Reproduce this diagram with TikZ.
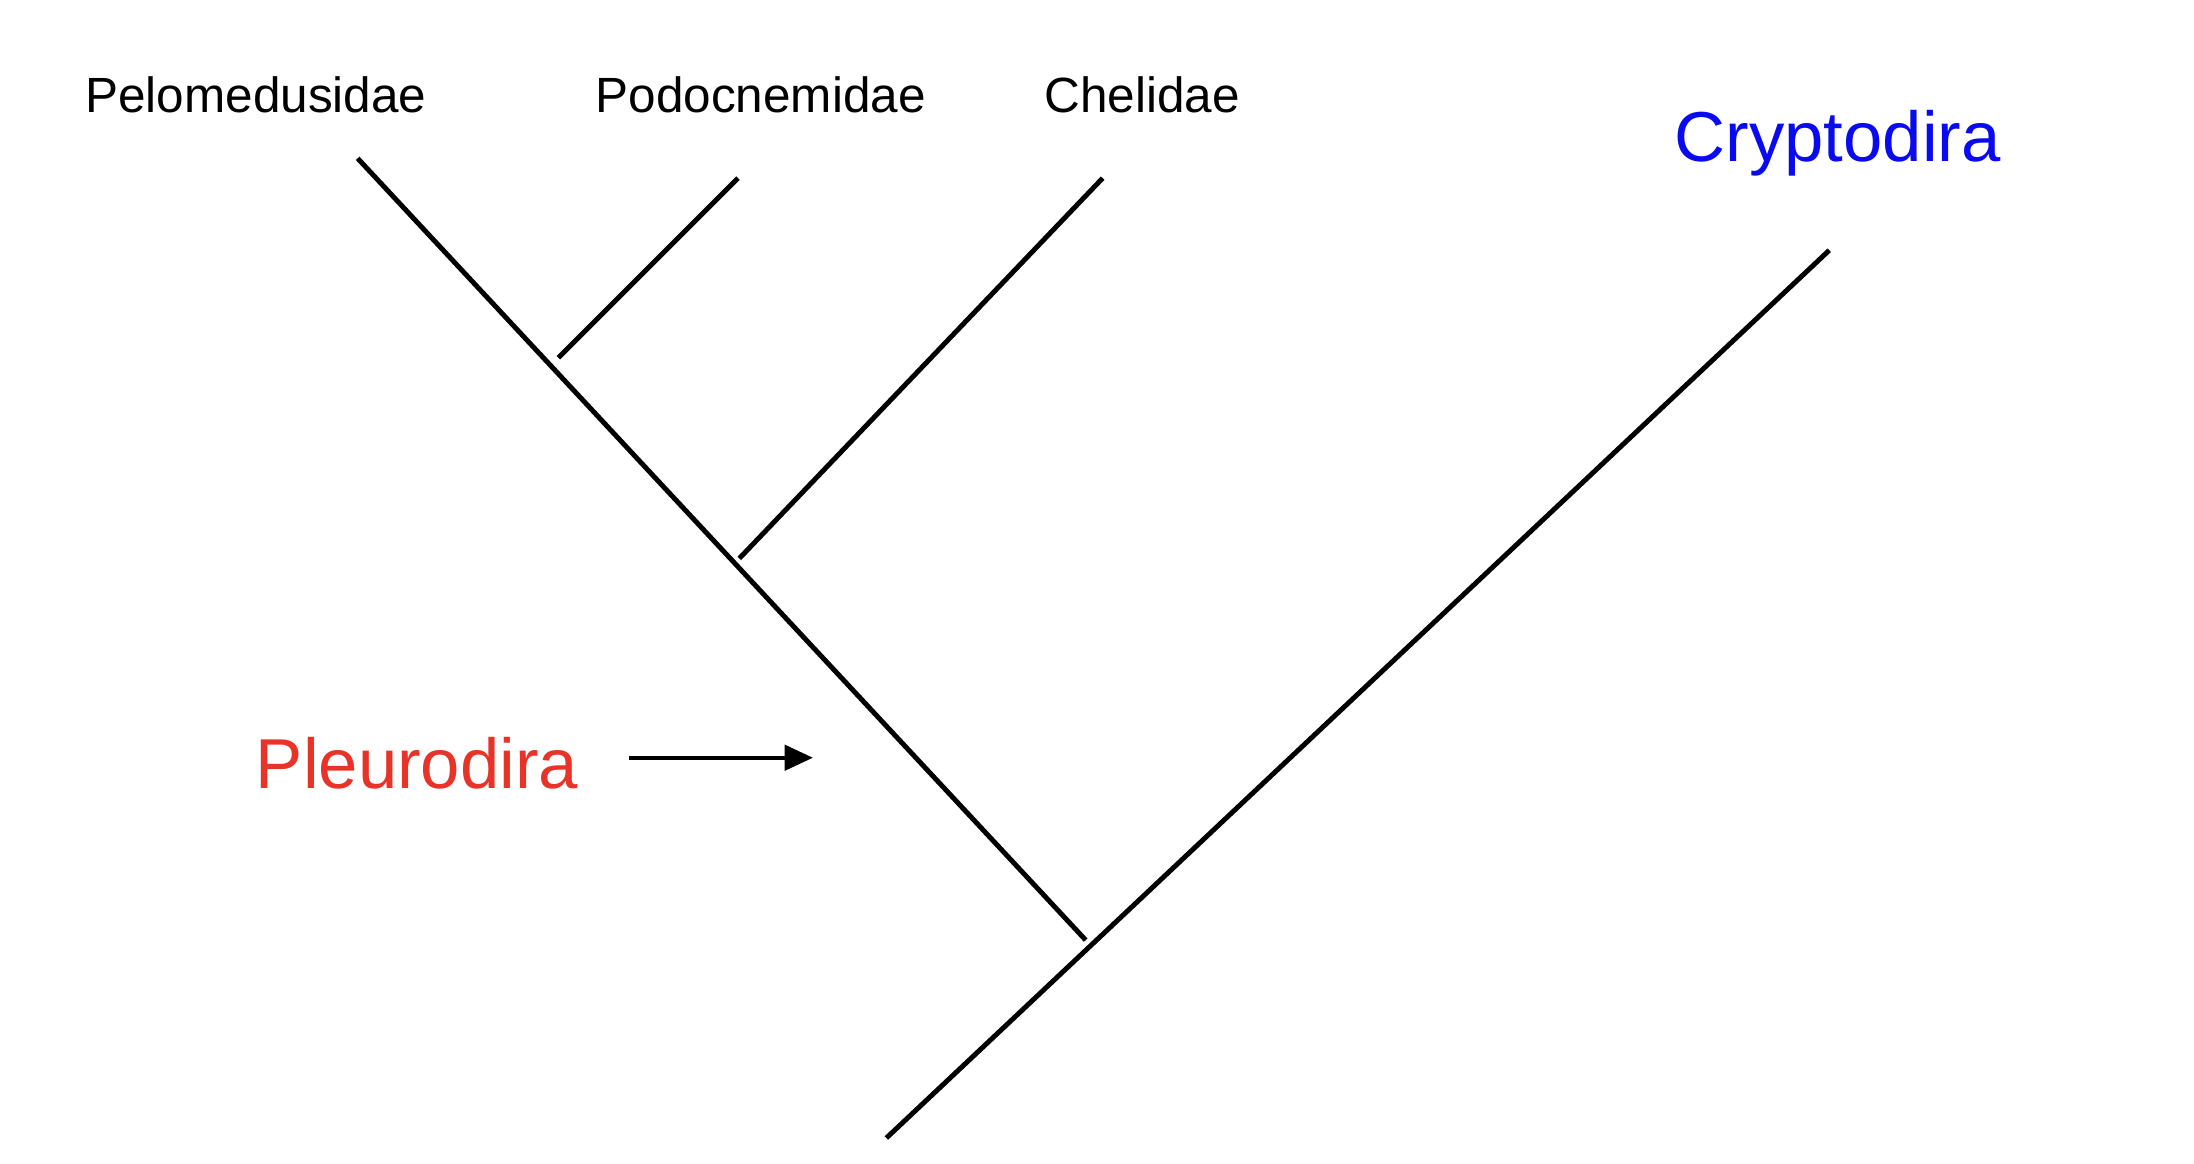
\documentclass[tikz,border=0pt]{standalone}
\usepackage{fontspec}
\setmainfont{Liberation Sans}
\usetikzlibrary{arrows.meta}
\definecolor{pred}{RGB}{232,52,40}
\definecolor{cblue}{RGB}{10,10,240}
\begin{document}
\begin{tikzpicture}[x=1pt,y=-1pt,
  br/.style={line width=3.5pt},
  lab/.style={font=\fontsize{35}{40}\selectfont, inner sep=0pt},
  big/.style={font=\fontsize{50}{56}\selectfont, inner sep=0pt}]
\useasboundingbox (0,0) rectangle (1552,823);
\coordinate (p1) at (253,112); \coordinate (p2) at (768,665);
\coordinate (c1) at (627,805); \coordinate (c2) at (1294,177);
\coordinate (n1) at (395,253); \coordinate (n2) at (522,126);
\coordinate (h1) at (523,395); \coordinate (h2) at (780,126);
\coordinate (a1) at (445,536); \coordinate (a2) at (575,536);
\draw[br] (p1) -- (p2);
\draw[br] (c1) -- (c2);
\draw[br] (n1) -- (n2);
\draw[br] (h1) -- (h2);
\draw[line width=2.5pt,-{Triangle[length=20pt,width=18pt]}] (a1) -- (a2);
\node[lab] (t1) at (181,67) {Pelomedusidae};
\node[lab] (t2) at (538,67) {Podocnemidae};
\node[lab] (t3) at (808,67) {Chelidae};
\node[big,text=cblue] (t4) at (1300,101) {Cryptodira};
\node[big,text=pred] (t5) at (295,540) {Pleurodira};
\end{tikzpicture}
\end{document}
